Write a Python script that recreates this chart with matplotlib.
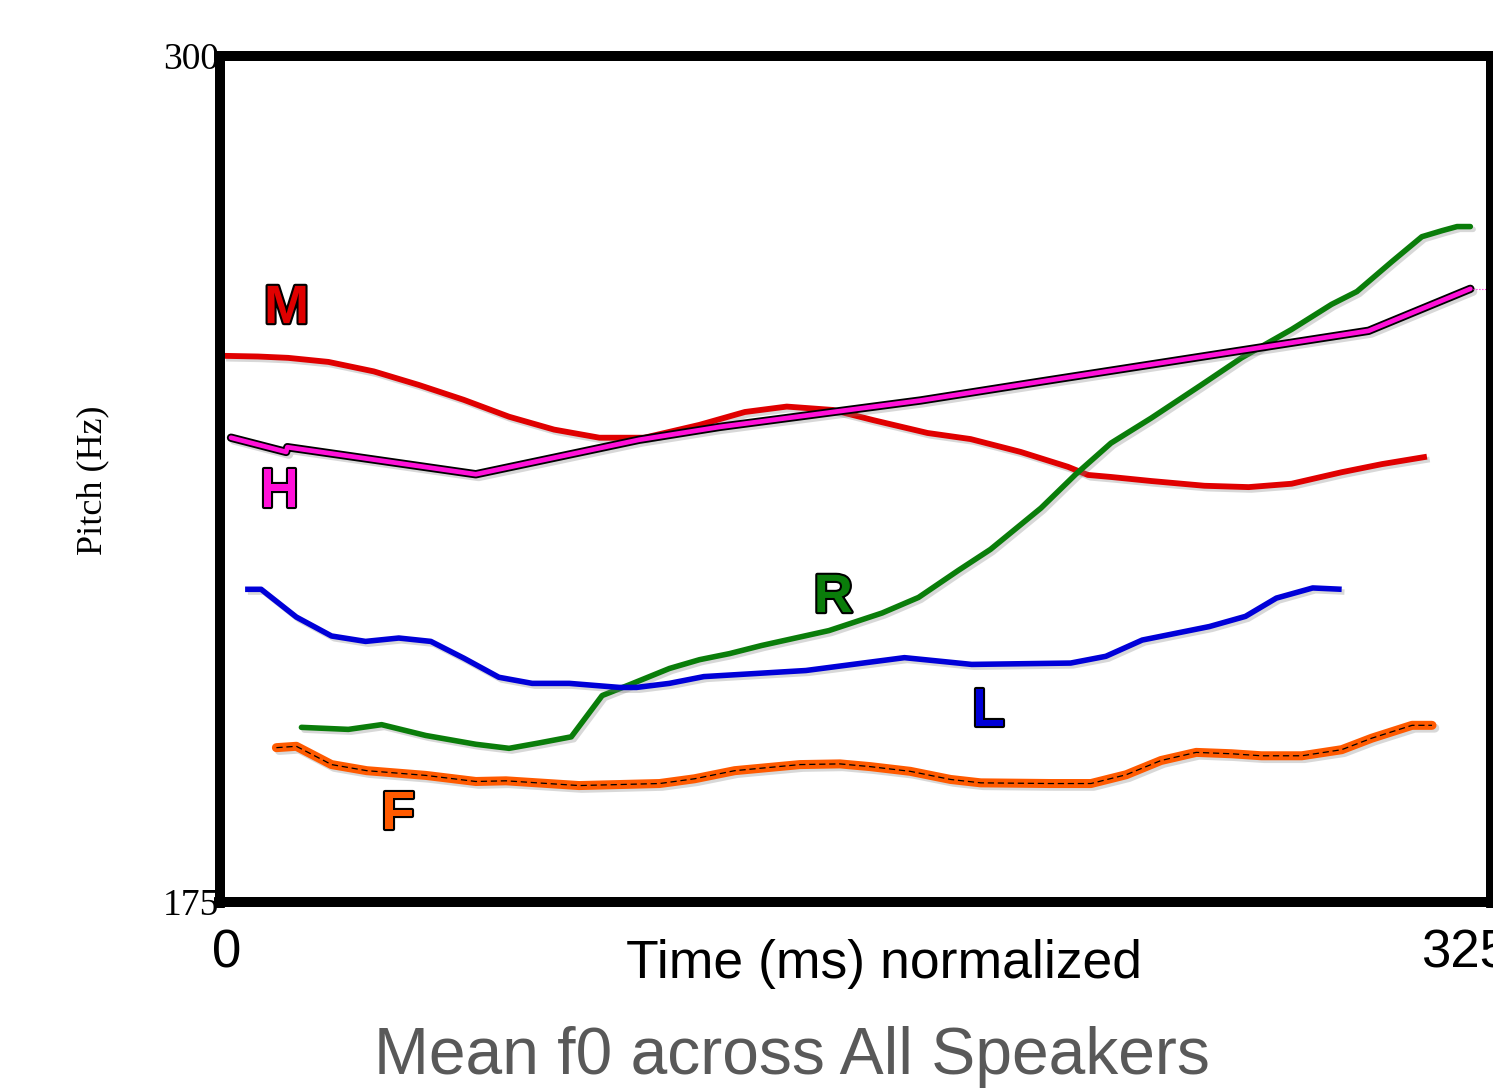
import matplotlib
matplotlib.use("Agg")
import matplotlib.pyplot as plt
import matplotlib.patheffects as pe
import matplotlib.transforms as mtransforms

# mean f0 per tone (time in ms normalized, pitch in Hz)
m_time = [0.8, 9.7, 17.4, 27.7, 39.3, 50.8, 62.3, 73.9, 85.4, 97.0, 108.5, 122.6, 134.2, 144.9,
          156.7, 167.0, 180.9, 191.9, 204.7, 216.8, 221.9, 227.8, 238.1, 251.7, 263.0, 274.0,
          286.8, 297.1, 308.6]
m_f0 = [255.7, 255.6, 255.4, 254.8, 253.4, 251.4, 249.2, 246.7, 244.8, 243.6, 243.6, 245.5, 247.4,
        248.2, 247.7, 246.2, 244.3, 243.4, 241.5, 239.3, 238.1, 237.8, 237.2, 236.5, 236.3, 236.8,
        238.5, 239.7, 240.8]

h_time = [2.8, 16.9, 17.2, 65.4, 107.2, 127.8, 179.1, 209.9, 293.7, 319.7]
h_f0 = [243.6, 241.5, 242.2, 238.2, 243.3, 245.2, 249.1, 251.9, 259.4, 265.6]

r_time = [20.8, 32.8, 41.3, 52.6, 65.4, 73.9, 81.6, 89.8, 97.7, 104.7, 114.9, 122.6, 130.3, 138.5,
          155.7, 169.3, 178.6, 188.8, 197.0, 209.9, 218.8, 227.8, 238.1, 250.9, 261.2, 274.0,
          284.2, 290.7, 299.6, 307.3, 312.5, 316.3, 319.7]
r_f0 = [200.8, 200.5, 201.2, 199.6, 198.3, 197.7, 198.5, 199.4, 205.5, 207.1, 209.5, 210.8, 211.7,
        212.9, 215.1, 217.7, 220.0, 224.0, 227.1, 233.2, 238.2, 242.8, 246.5, 251.4, 255.4, 259.6,
        263.3, 265.2, 269.6, 273.3, 274.2, 274.8, 274.8]

l_time = [6.4, 10.5, 19.5, 28.5, 37.2, 45.7, 53.9, 62.4, 71.3, 79.8, 89.3, 102.1, 106.5, 114.9,
          123.7, 149.8, 175.0, 192.2, 217.5, 226.5, 235.8, 253.0, 262.2, 270.1, 279.4, 286.8]
l_f0 = [221.2, 221.2, 217.1, 214.3, 213.5, 214.0, 213.5, 211.0, 208.2, 207.3, 207.3, 206.7, 206.7,
        207.3, 208.3, 209.2, 211.1, 210.1, 210.3, 211.3, 213.7, 215.7, 217.2, 219.9, 221.4, 221.2]

f_time = [14.4, 19.5, 28.5, 37.5, 52.6, 65.4, 73.1, 91.8, 112.4, 121.3, 131.6, 148.3, 158.5, 166.2,
          176.5, 186.8, 194.5, 212.4, 222.7, 231.7, 240.6, 249.6, 258.6, 266.3, 276.6, 286.8,
          294.5, 304.8, 309.9]
f_f0 = [197.8, 198.0, 195.3, 194.4, 193.7, 192.8, 192.9, 192.2, 192.5, 193.2, 194.4, 195.3, 195.4,
        195.0, 194.3, 193.1, 192.6, 192.5, 192.5, 193.8, 195.9, 197.1, 196.9, 196.6, 196.6, 197.5,
        199.2, 201.1, 201.1]

x_ticks = [0, 325]
y_ticks = [175, 300]

fig = plt.figure(figsize=(14.93, 10.88), dpi=100)
ax = fig.add_axes([0.1474, 0.1710, 0.8513, 0.7775])

shadow = [pe.SimpleLineShadow(offset=(2, -2), shadow_color='gray', alpha=0.3), pe.Normal()]

ax.plot(m_time, m_f0, color='#e00000', lw=4.2, solid_capstyle='butt', path_effects=shadow)
ax.plot(r_time, r_f0, color='#0a7d0a', lw=4, solid_capstyle='round', path_effects=shadow)
ax.plot(l_time, l_f0, color='#0000d8', lw=4, solid_capstyle='butt', path_effects=shadow)
# orange line with a thin dashed black line on top
ax.plot(f_time, f_f0, color='#ff5a00', lw=6.5, solid_capstyle='round', path_effects=shadow)
ax.plot(f_time, f_f0, color='black', lw=0.9, ls=(0, (5, 3)))
# magenta line with black outline
ax.plot(h_time, h_f0, color='black', lw=6, solid_capstyle='round', path_effects=shadow)
ax.plot(h_time, h_f0, color='#ff10d8', lw=3.4, solid_capstyle='round')
ax.plot([h_time[-1], 325], [h_f0[-1], h_f0[-1]], color='#ff10d8', lw=0.8, ls=':', clip_on=False)

outline = [pe.Stroke(linewidth=3, foreground='black'), pe.Normal()]
lab_font = dict(family='Liberation Sans', fontsize=39, fontweight='bold', ha='center', va='center')
ax.text(17.0, 262.6, 'M', color='#e00000', path_effects=outline, **lab_font)
ax.text(15.2, 235.5, 'H', color='#ff10d8', path_effects=outline, **lab_font)
ax.text(156.8, 219.9, 'R', color='#0a7d0a', path_effects=outline, **lab_font)
ax.text(196.5, 203.0, 'L', color='#0000d8', path_effects=outline, **lab_font)
ax.text(45.5, 187.8, 'F', color='#ff5a00', path_effects=outline, **lab_font)

ax.set_xlim(0, 325)
ax.set_ylim(175, 300)
ax.set_xticks(x_ticks)
ax.set_yticks(y_ticks)
ax.set_xticklabels([str(v) for v in x_ticks], family='Liberation Sans', fontsize=38)
ax.set_yticklabels([str(v) for v in y_ticks], family='Liberation Serif', fontsize=27)
ax.tick_params(axis='x', direction='out', length=4, width=7, pad=15)
ax.tick_params(axis='y', direction='out', length=4, width=7, pad=-3)

# the x tick labels sit a little off the ticks in the original
shifts = [7, -26]
for lab, dx in zip(ax.get_xticklabels(), shifts):
    lab.set_transform(lab.get_transform() + mtransforms.ScaledTranslation(dx / 100, 0, fig.dpi_scale_trans))

for s in ax.spines.values():
    s.set_linewidth(7.2)
    s.set_color('black')

fig.text(0.0623, 0.5588, 'Pitch (Hz)', rotation=90, family='Liberation Serif', fontsize=26,
         ha='center', va='center')
fig.text(0.592, 0.1011, 'Time (ms) normalized', family='Liberation Sans', fontsize=38.5,
         ha='center', va='baseline')
fig.text(0.5305, 0.0125, 'Mean f0 across All Speakers', family='Liberation Sans', fontsize=47.5,
         color='#595959', ha='center', va='baseline')

fig.savefig('out.png', dpi=100)
